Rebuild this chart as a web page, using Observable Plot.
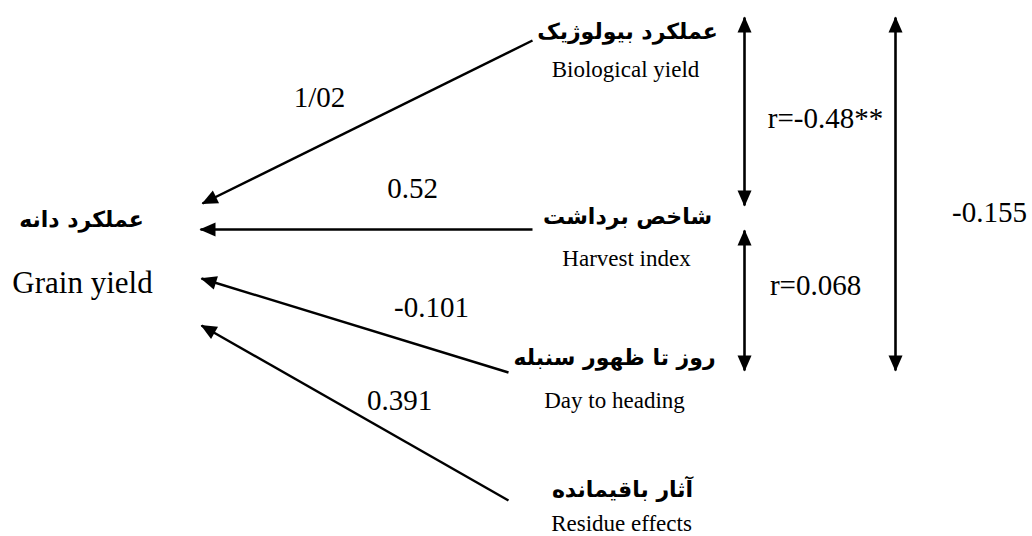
<!DOCTYPE html>
<html><head><meta charset="utf-8">
<script src="https://cdn.jsdelivr.net/npm/d3@7"></script>
<script src="https://cdn.jsdelivr.net/npm/@observablehq/plot@0.6"></script>
<style>html,body{margin:0;padding:0;background:#fff}</style>
</head><body><div id="chart"></div>
<script>
// ---- data ----
const nodeIds = ["grain", "bio", "hi", "dth", "res"];
const nodeFa = ["عملکرد دانه", "عملکرد بیولوژیک", "شاخص برداشت", "روز تا ظهور سنبله", "آثار باقیمانده"];
const nodeEn = ["Grain yield", "Biological yield", "Harvest index", "Day to heading", "Residue effects"];
const pathFrom = ["bio", "hi", "dth", "res"];
const pathCoef = ["1/02", "0.52", "-0.101", "0.391"];
const corrFrom = ["bio", "hi", "bio"];
const corrTo = ["hi", "dth", "dth"];
const corrLabel = ["r=-0.48**", "r=0.068", "-0.155"];

// ---- layout (diagram coordinates) ----
const faPos = {grain: [81, 219], bio: [627, 31], hi: [627, 216], dth: [614, 357], res: [622, 489]};
const enPos = {grain: [82, 283], bio: [625, 69], hi: [626, 258], dth: [614, 400], res: [621, 523]};
const tailPos = {bio: [532, 40], hi: [532, 229], dth: [508, 372], res: [508, 500]};
const headPos = {bio: [202, 203], hi: [200, 229], dth: [201, 278], res: [201, 325]};
const coefPos = {bio: [319, 97], hi: [412, 188], dth: [431, 307], res: [399, 400]};
const corrLine = [[744, 17, 205], [744, 230, 370], [895, 17, 370]];
const corrPos = [[825, 118], [815, 285], [989, 212]];

const nodes = nodeIds.map((id, i) => ({id, fa: nodeFa[i], en: nodeEn[i]}));
const paths = pathFrom.map((id, i) => ({id, coef: pathCoef[i], x1: tailPos[id][0], y1: tailPos[id][1], x2: headPos[id][0], y2: headPos[id][1], lx: coefPos[id][0], ly: coefPos[id][1]}));
const corrs = corrFrom.map((f, i) => ({from: f, to: corrTo[i], label: corrLabel[i], x: corrLine[i][0], y1: corrLine[i][1], y2: corrLine[i][2], lx: corrPos[i][0], ly: corrPos[i][1]}));

function filledHead(color, context) {
  const doc = (context && context.document) || document;
  const ns = "http://www.w3.org/2000/svg";
  const m = doc.createElementNS(ns, "marker");
  m.setAttribute("viewBox", "0 -8 16 16");
  m.setAttribute("refX", "15");
  m.setAttribute("refY", "0");
  m.setAttribute("markerWidth", "16");
  m.setAttribute("markerHeight", "16");
  m.setAttribute("markerUnits", "userSpaceOnUse");
  m.setAttribute("orient", "auto-start-reverse");
  m.setAttribute("overflow", "visible");
  const p = doc.createElementNS(ns, "path");
  p.setAttribute("d", "M0,-7L16,0L0,7Z");
  p.setAttribute("fill", "#000");
  p.setAttribute("stroke", "none");
  m.appendChild(p);
  return m;
}

const serif = "Liberation Serif, Times New Roman, serif";
const faFont = "DejaVu Sans, sans-serif";

const chart = Plot.plot({
  width: 1032,
  height: 536,
  margin: 0,
  x: {domain: [0, 1032], range: [0, 1032], axis: null},
  y: {domain: [0, 536], range: [0, 536], axis: null},
  style: {background: "#fff", fontFamily: serif},
  marks: [
    Plot.link(paths, {x1: "x1", y1: "y1", x2: "x2", y2: "y2", stroke: "#000", strokeWidth: 2.4, markerEnd: filledHead}),
    Plot.link(corrs, {x1: "x", y1: "y1", x2: "x", y2: "y2", stroke: "#000", strokeWidth: 2.6, markerStart: filledHead, markerEnd: filledHead}),
    Plot.text(paths, {x: "lx", y: "ly", text: "coef", fontSize: 29, fontFamily: serif, fill: "#000"}),
    Plot.text(corrs, {x: "lx", y: "ly", text: "label", fontSize: 29, fontFamily: serif, fill: "#000"}),
    Plot.text(nodes, {x: d => faPos[d.id][0], y: d => faPos[d.id][1], text: "fa", fontSize: 22, fontWeight: "bold", fontFamily: faFont, fill: "#000"}),
    Plot.text(nodes, {x: d => enPos[d.id][0], y: d => enPos[d.id][1], text: "en", fontSize: d => d.id === "grain" ? 31 : 23, fontFamily: serif, fill: "#000"})
  ]
});
document.getElementById("chart").appendChild(chart);
</script>
</body></html>
